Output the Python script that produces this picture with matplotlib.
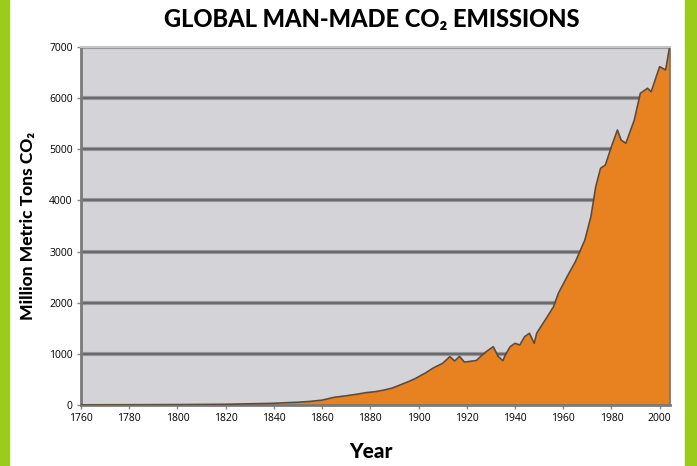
import matplotlib
matplotlib.use("Agg")
import matplotlib.pyplot as plt
import matplotlib.patches as patches

# data (years, million metric tons)
years = [1760, 1780, 1800, 1820, 1840, 1845, 1850, 1855, 1860, 1865, 1870, 1875,
         1878, 1882, 1886, 1889, 1892, 1896, 1899, 1903, 1906, 1910, 1913, 1915,
         1917, 1919, 1921, 1924, 1926, 1928, 1931, 1933, 1935, 1936, 1938, 1940,
         1942, 1944, 1946, 1948, 1949, 1951, 1953, 1956, 1958, 1962, 1965, 1969,
         1971.5, 1973.5, 1975.5, 1977.5, 1980, 1982.5, 1984, 1986, 1989.5, 1992,
         1995, 1996.5, 2000, 2002.5, 2004]
emissions = [3, 5, 8, 14, 33, 45, 54, 70, 95, 150, 180, 215,
             240, 260, 295, 330, 385, 460, 525, 630, 720, 815, 945, 860,
             950, 840, 850, 870, 960, 1040, 1140, 950, 866, 978, 1140, 1206,
             1173, 1336, 1402, 1206, 1402, 1550, 1695, 1922, 2184, 2542, 2796, 3226,
             3682, 4268, 4628, 4693, 5051, 5377, 5182, 5117, 5573, 6095,
             6193, 6126, 6615, 6551, 6960]

xticks = list(range(1760, 2001, 20))
yticks = list(range(0, 7001, 1000))

fig = plt.figure(figsize=(6.97, 4.66), dpi=100)
fig.patch.set_facecolor("white")

# green side bars
fig.patches.append(patches.Rectangle((0, 0), 9 / 697, 1, transform=fig.transFigure,
                                     color="#9dcb1b", zorder=0))
fig.patches.append(patches.Rectangle((685 / 697, 0), 12 / 697, 1, transform=fig.transFigure,
                                     color="#9dcb1b", zorder=0))

ax = fig.add_axes([81 / 697, 1 - 405 / 466, 589 / 697, 358 / 466])
ax.set_facecolor("#d3d3d8")

for v in yticks[1:]:
    ax.axhline(v, color="#9a9a9e", lw=3.0, zorder=1)
    ax.axhline(v, color="#6a6a6e", lw=1.5, zorder=1)

ax.fill_between(years, emissions, 0, color="#e88220", lw=0, zorder=2)
ax.plot(years, emissions, color="#5e4a38", lw=1.2, zorder=3)

ax.set_xlim(1760, 2004.3)
ax.set_ylim(0, 7000)
ax.set_xticks(xticks)
ax.set_yticks(yticks)
ax.set_xticklabels([str(t) for t in xticks], fontfamily="Open Sans", fontsize=7.5)
ax.set_yticklabels([str(t) for t in yticks], fontfamily="Open Sans", fontsize=7.5)
ax.tick_params(axis="both", length=3, width=1, color="#888888", pad=3)

for s in ["left", "bottom"]:
    ax.spines[s].set_color("#7a7a7a")
    ax.spines[s].set_linewidth(2)
ax.spines["top"].set_color("#c4c4c8")
ax.spines["top"].set_linewidth(1.5)
ax.spines["right"].set_color("#8a6a50")
ax.spines["right"].set_linewidth(1.2)

fig.text(372 / 697, 1 - 20 / 466, "GLOBAL MAN-MADE CO\u2082 EMISSIONS", ha="center", va="center",
         fontfamily="Lato", fontweight="black", fontsize=17)
fig.text(28 / 697, 1 - 226 / 466, "Million Metric Tons CO\u2082", ha="center", va="center",
         rotation=90, fontfamily="Lato", fontweight="black", fontsize=12.5)
fig.text(371 / 697, 1 - 452 / 466, "Year", ha="center", va="center",
         fontfamily="Lato", fontweight="black", fontsize=15)

fig.savefig("out.png", dpi=100)
